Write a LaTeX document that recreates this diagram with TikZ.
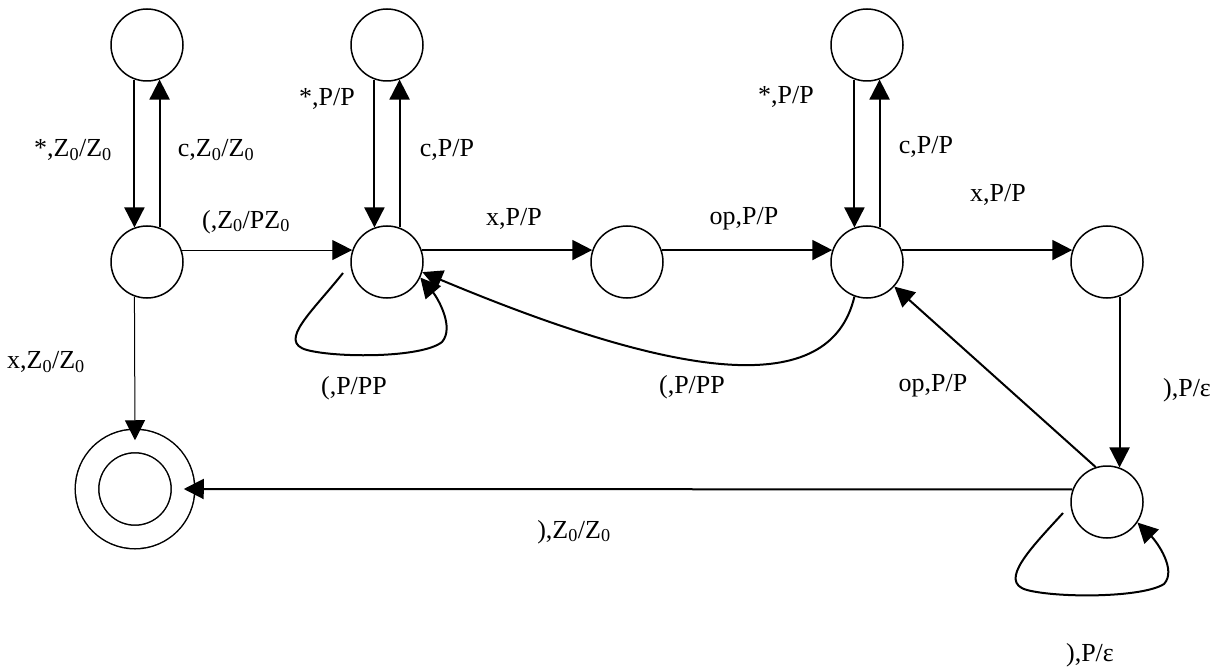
\documentclass[tikz,border=0pt]{standalone}
\usepackage{fontspec}
\setmainfont{Liberation Serif}
\usetikzlibrary{arrows.meta,positioning}

\newcommand{\Zo}{Z\textsubscript{0}}

\begin{document}
\begin{tikzpicture}[
    x=1pt, y=-1pt,
    state/.style={draw, circle, line width=1.5pt, minimum size=72pt, inner sep=0pt},
    final/.style={draw, circle, line width=1.5pt, minimum size=96pt, inner sep=0pt, double=white, double distance=22pt},
    lbl/.style={font=\fontsize{26}{28}\selectfont, inner sep=0pt},
    arrow/.style={-{Triangle[length=20pt,width=20pt]}, line width=2pt},
    thinarrow/.style={-{Triangle[length=20pt,width=20pt]}, line width=1pt}
]
\useasboundingbox (0,0) rectangle (1215,668);

% states
\node[state] (t1) at (147,45) {};
\node[state] (t2) at (387,45) {};
\node[state] (t4) at (867,45) {};
\node[state] (s1) at (147,262) {};
\node[state] (s2) at (387,262) {};
\node[state] (s3) at (627,262) {};
\node[state] (s4) at (867,262) {};
\node[state] (s5) at (1107,262) {};
\node[state] (s6) at (1107,502) {};
\node[final] (acc) at (135,489) {};

% loop starts, a little off the circles
\coordinate (s2loop) at ([shift={(-44,11)}]s2.center);
\coordinate (s6loop) at ([shift={(-44,11)}]s6.center);

% up and down pairs
\draw[arrow] (t1.250) -- (s1.110);
\draw[arrow] (s1.70) -- (t1.290);
\draw[arrow] (t2.250) -- (s2.110);
\draw[arrow] (s2.70) -- (t2.290);
\draw[arrow] (t4.250) -- (s4.110);
\draw[arrow] (s4.70) -- (t4.290);

% main row
\draw[thinarrow] (s1.19) -- (s2.161);
\draw[arrow] (s2.19) -- (s3.161);
\draw[arrow] (s3.19) -- (s4.161);
\draw[arrow] (s4.19) -- (s5.161);
\draw[arrow] (s5.290) -- (s6.70);
\draw[thinarrow] (s1.250) -- (acc.north);
\draw[arrow] (s6.160) -- (acc.east);
\draw[arrow] (s6.108) -- (s4.-42);
\draw[arrow] (s4.-110) .. controls (830,400) and (680,380) .. (s2.-16);

% self loops
\draw[arrow] (s2loop) .. controls ([shift={(-75,50)}]s2.center) and ([shift={(-110,80)}]s2.center) .. ([shift={(-80,88)}]s2.center)
    .. controls ([shift={(-50,96)}]s2.center) and ([shift={(35,96)}]s2.center) .. ([shift={(55,80)}]s2.center)
    .. controls ([shift={(68,65)}]s2.center) and ([shift={(50,35)}]s2.center) .. (s2.-25);
\draw[arrow] (s6loop) .. controls ([shift={(-75,45)}]s6.center) and ([shift={(-110,80)}]s6.center) .. ([shift={(-80,88)}]s6.center)
    .. controls ([shift={(-50,96)}]s6.center) and ([shift={(35,96)}]s6.center) .. ([shift={(57,82)}]s6.center)
    .. controls ([shift={(70,68)}]s6.center) and ([shift={(50,40)}]s6.center) .. (s6.-34);

% labels
\node[lbl] (l1) at (73,150) {*,\Zo/\Zo};
\node[lbl] (l2) at (216,150) {c,\Zo/\Zo};
\node[lbl] (l3) at (327,99) {*,P/P};
\node[lbl] (l4) at (447,150) {c,P/P};
\node[lbl] (l5) at (246,222) {(,\Zo/P\Zo};
\node[lbl] (l6) at (514,219) {x,P/P};
\node[lbl] (l7) at (744,219) {op,P/P};
\node[lbl] (l8) at (786,97) {*,P/P};
\node[lbl] (l9) at (926,147) {c,P/P};
\node[lbl] (l10) at (998,195) {x,P/P};
\node[lbl] (l11) at (1187,390) {),P/ε};
\node[lbl] (l12) at (933,386) {op,P/P};
\node[lbl] (l13) at (692,387) {(,P/PP};
\node[lbl] (l14) at (354,388) {(,P/PP};
\node[lbl] (l15) at (46,362) {x,\Zo/\Zo};
\node[lbl] (l16) at (574,532) {),\Zo/\Zo};
\node[lbl] (l17) at (1090,655) {),P/ε};
\end{tikzpicture}
\end{document}
